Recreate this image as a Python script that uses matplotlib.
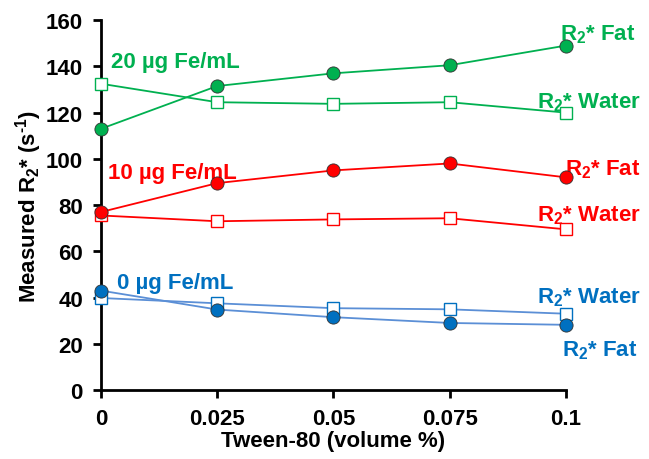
import numpy as np
import matplotlib
matplotlib.use("Agg")
import matplotlib.pyplot as plt

plt.rcParams['font.family'] = ['Liberation Sans', 'DejaVu Sans']
plt.rcParams['font.weight'] = 'bold'
plt.rcParams['axes.labelweight'] = 'bold'
plt.rcParams['mathtext.fontset'] = 'custom'
plt.rcParams['mathtext.rm'] = 'Liberation Sans:bold'
plt.rcParams['mathtext.bf'] = 'Liberation Sans:bold'
plt.rcParams['mathtext.it'] = 'Liberation Sans:bold'
plt.rcParams['mathtext.default'] = 'bf'

# Tween-80 concentration (volume %)
tween = [0, 0.025, 0.05, 0.075, 0.1]

# R2* (s^-1) per iron concentration
fat_20 = [113, 131.5, 137, 140.5, 149]
water_20 = [132.5, 124.5, 123.8, 124.5, 120]
fat_10 = [77, 89.5, 95, 98, 92]
water_10 = [75.5, 73, 73.8, 74.3, 69.5]
fat_0 = [43, 34.8, 31.5, 29, 28.2]
water_0 = [39.8, 37.5, 35.4, 34.9, 33]

# small error bars (estimated)
err_water_20 = [0.5, 0.5, 1.5, 0.5, 0.5]
err_water_10 = [0.5, 0.5, 1.5, 0.5, 0.5]
err_water_0 = [0.5, 1.5, 1.5, 0.5, 1.5]
err_fat_0 = [0.5, 0.5, 0.5, 0.5, 2.0]

green = '#00b050'
red = '#ff0000'
blue = '#0070c0'
blue_line = '#5b8fd6'

fig = plt.figure(figsize=(6.49, 4.60), dpi=100)
ax = fig.add_axes([0.1556, 0.15, 0.7164, 0.804])

def water(y, err, col, lcol):
    ax.errorbar(tween, y, yerr=err, color=lcol, lw=1.3, marker='s', ms=8,
                mfc='white', mec=col, mew=1.0, ecolor=col, elinewidth=1.0,
                capsize=4, clip_on=False, zorder=3)

def fat(y, err, col, lcol):
    ax.errorbar(tween, y, yerr=err, color=lcol, lw=1.3, marker='o', ms=9.5,
                mfc=col, mec='#303030', mew=0.6, ecolor='black', elinewidth=1.0,
                capsize=2, clip_on=False, zorder=4)

water(water_20, err_water_20, green, green)
fat(fat_20, None, green, green)
water(water_10, err_water_10, red, red)
fat(fat_10, None, red, red)
water(water_0, err_water_0, blue, blue_line)
fat(fat_0, err_fat_0, blue, blue_line)

fs = 16
ax.text(0.0021, 142.3, '20 µg Fe/mL', color=green, fontsize=fs, va='center')
ax.text(0.0015, 94.3, '10 µg Fe/mL', color=red, fontsize=fs, va='center')
ax.text(0.0034, 46.7, '0 µg Fe/mL', color=blue, fontsize=fs, va='center')

r2 = r'R$_2$* '
ax.text(0.0987, 154, r2 + 'Fat', color=green, fontsize=fs, va='center', clip_on=False)
ax.text(0.0938, 124.8, r2 + 'Water', color=green, fontsize=fs, va='center', clip_on=False)
ax.text(0.0998, 95.9, r2 + 'Fat', color=red, fontsize=fs, va='center', clip_on=False)
ax.text(0.0938, 76, r2 + 'Water', color=red, fontsize=fs, va='center', clip_on=False)
ax.text(0.0938, 40.5, r2 + 'Water', color=blue, fontsize=fs, va='center', clip_on=False)
ax.text(0.0991, 17.6, r2 + 'Fat', color=blue, fontsize=fs, va='center', clip_on=False)

ax.set_xlim(0, 0.1)
ax.set_ylim(0, 160)
ax.set_xticks(tween)
ax.set_xticklabels(['0', '0.025', '0.05', '0.075', '0.1'])
ax.set_yticks(np.arange(0, 161, 20))
ax.spines['top'].set_visible(False)
ax.spines['right'].set_visible(False)
for s in ['left', 'bottom']:
    ax.spines[s].set_linewidth(2)
ax.tick_params(width=2, length=6, labelsize=fs, pad=7)
ax.set_xlabel('Tween-80 (volume %)', fontsize=fs, labelpad=1)
ax.set_ylabel(r'Measured R$_2$* (s$^{\text{-}1}$)', fontsize=fs, labelpad=1)

fig.savefig('out.png', dpi=100)
